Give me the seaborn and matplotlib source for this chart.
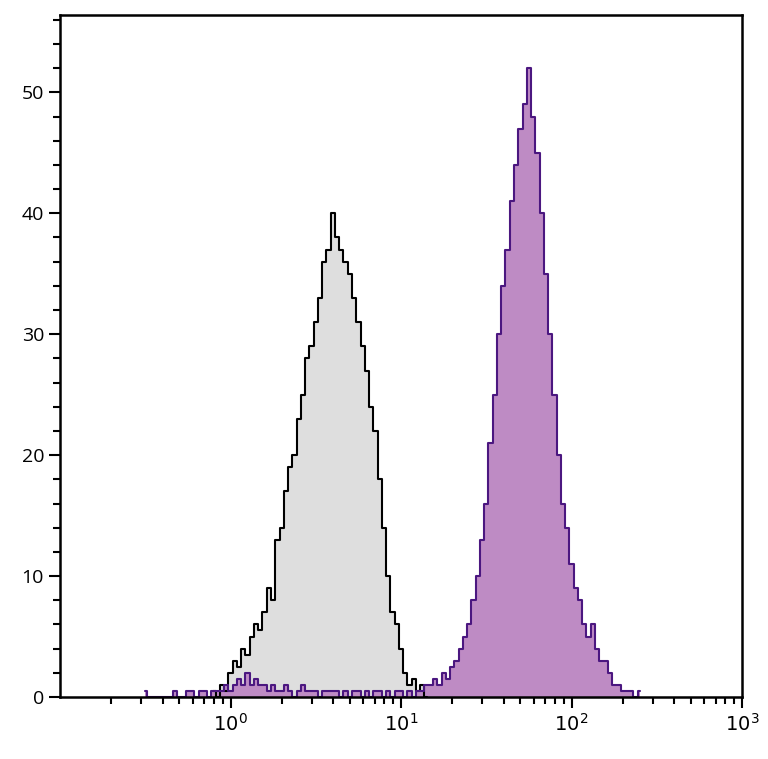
import numpy as np
import pandas as pd
import matplotlib
matplotlib.use("Agg")
import matplotlib.pyplot as plt
import seaborn as sns
from matplotlib.ticker import MultipleLocator, LogLocator, NullFormatter

sns.set_style("ticks")
plt.rcParams['font.family'] = ['Open Sans', 'DejaVu Sans']

step = 0.025
ctrl_start = -0.1
ctrl_counts = [0.5,0,1,0.5,2,3,2.5,4,3.5,5,6,5.5,7,9,8,13,14,17,19,20,23,25,28,29,31,33,36,37,40,38,
               37,36,35,33,31,29,27,24,22,18,14,10,7,6,4,2,1,1.5,0.5,1,0]
stain_start = -0.5
stain_counts = [0.5,0,0,0,0,0,0,0.5,0,0,0.5,0.5,0,0.5,
                0.5,0,0.5,0.5,0.5,1,0.5,1,1.5,1,2,1,1.5,1,1,0.5,1,0.5,0.5,1,0.5,0,0.5,1,0.5,0.5,
                0.5,0,0.5,0.5,0.5,0.5,0,0.5,0,0.5,0.5,0,0.5,0,0.5,0.5,0,0.5,0,0.5,0.5,0,0.5,0,0.5,0.5,
                1,1,1.5,1,2,1.5,2.5,3,4,5,6,8,10,13,16,21,25,30,34,37,41,44,47,49,52,48,45,40,35,30,25,20,
                16,14,11,9,8,6,5,6,4,3,3,2,1,1,0.5,0.5,0.5,0,0.5]

fig = plt.figure(figsize=(7.68, 7.59), dpi=100)
ax = fig.add_axes([60/768, 62/759, 682/768, 682/759])
ax.set_xscale("log")

def hist(start, counts, face, edge):
    lg = start + step*np.arange(len(counts))
    df = pd.DataFrame({"x": 10**lg, "y": counts})
    ax.fill_between(df["x"], 0, df["y"], step="mid", color=face, linewidth=0)
    sns.lineplot(data=df, x="x", y="y", drawstyle="steps-mid", color=edge,
                 linewidth=1.5, ax=ax)

hist(ctrl_start, ctrl_counts, "#dedede", "black")
hist(stain_start, stain_counts, "#be8bc4", "#4b1780")
ax.set_xlim(0.1, 1000)
ax.set_ylim(0, 56.4)
ax.set_xticks([1, 10, 100, 1000])
ax.set_xticklabels([r"$10^0$", r"$10^1$", r"$10^2$", r"$10^3$"])
ax.xaxis.set_minor_locator(LogLocator(base=10, subs=np.arange(2, 10)))
ax.xaxis.set_minor_formatter(NullFormatter())
ax.yaxis.set_major_locator(MultipleLocator(10))
ax.yaxis.set_minor_locator(MultipleLocator(2))
ax.set_xlabel(""); ax.set_ylabel("")
ax.tick_params(labelsize=14, width=1.5, length=8, color="black", labelcolor="black")
ax.tick_params(which="minor", length=5, width=1.5, color="black")
for s in ax.spines.values():
    s.set_linewidth(1.8)
    s.set_color("black")
fig.savefig("out.png", dpi=100)
